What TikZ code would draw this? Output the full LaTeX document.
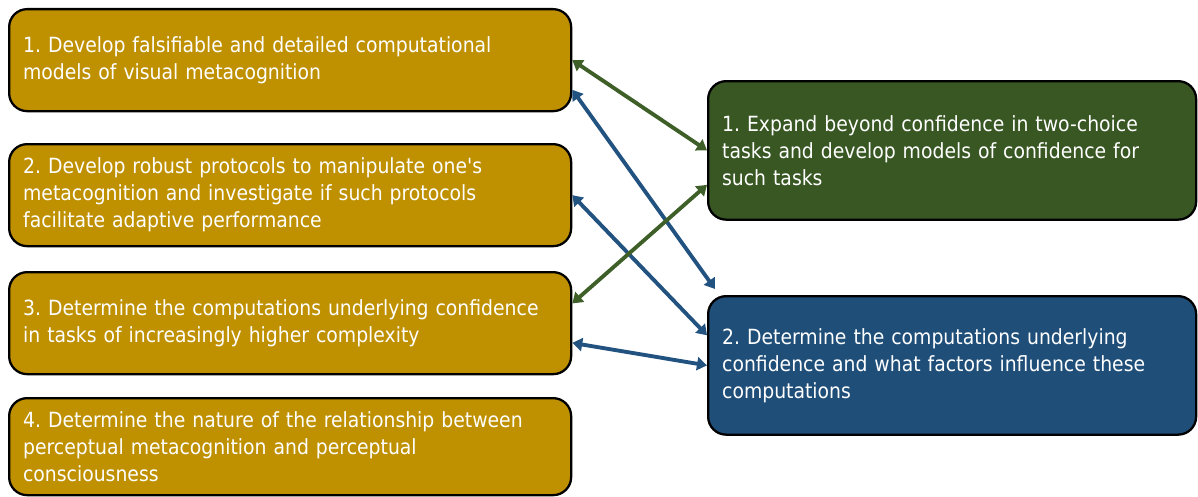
\documentclass[tikz,border=0pt]{standalone}
\usepackage{fontspec}
\setmainfont{DejaVu Sans Condensed}
\frenchspacing
\hyphenpenalty=10000
\usepackage{xcolor}
\definecolor{colAim}{HTML}{BF9000}
\definecolor{colConf}{HTML}{385723}
\definecolor{colConfLine}{HTML}{3E5F27}
\definecolor{colComp}{HTML}{1F4E79}
\definecolor{colCompLine}{HTML}{22527F}
\usepackage{tikz}
\usetikzlibrary{arrows.meta, positioning, calc}

\begin{document}
\begin{tikzpicture}[
		box/.style={draw=black, line width=1.3pt, rounded corners=0.36cm, anchor=north west,
			text=white, align=left, inner xsep=0.28cm, font=\fontsize{11.9}{15.4}\selectfont},
		aim/.style={box, fill=colAim, text width=10.68cm, minimum width=11.24cm, minimum height=2.04cm},
		goal/.style={box, text width=9.2cm, minimum width=9.76cm, minimum height=2.77cm},
		link/.style={line width=2.2pt, {Triangle[length=0.2cm,width=0.26cm]}-{Triangle[length=0.2cm,width=0.26cm]}}
	]
	\useasboundingbox (0,0) rectangle (23.96,9.92);
	% aims on the left
	\node[aim] (aim1) at (0.16,9.76) {1. Develop falsifiable and detailed computational\\models of visual metacognition};
	\node[aim] (aim2) at (0.16,7.06) {2. Develop robust protocols to manipulate one\textquotesingle s\\metacognition and investigate if such protocols\\facilitate adaptive performance};
	\node[aim] (aim3) at (0.16,4.50) {3. Determine the computations underlying confidence\\in tasks of increasingly higher complexity};
	\node[aim, minimum height=1.94cm] (aim4) at (0.16,1.98) {4. Determine the nature of the relationship between\\perceptual metacognition and perceptual\\consciousness};
	% goals on the right
	\node[goal, fill=colConf] (conf) at (14.14,8.32) {1. Expand beyond confidence in two-choice\\tasks and develop models of confidence for\\such tasks};
	\node[goal, fill=colComp] (comp) at (14.14,4.02) {2. Determine the computations underlying\\confidence and what factors influence these\\computations};
	% links
	\draw[link, colConfLine] (aim1.east) -- (conf.west);
	\draw[link, colCompLine] (aim1.-6) -- ($(comp.north west)+(0.16,0.12)$);
	\draw[link, colCompLine] (aim2.east) -- (comp.173);
	\draw[link, colConfLine] (aim3.4) -- (conf.188);
	\draw[link, colCompLine] (aim3.-4.6) -- (comp.west);
\end{tikzpicture}
\end{document}
